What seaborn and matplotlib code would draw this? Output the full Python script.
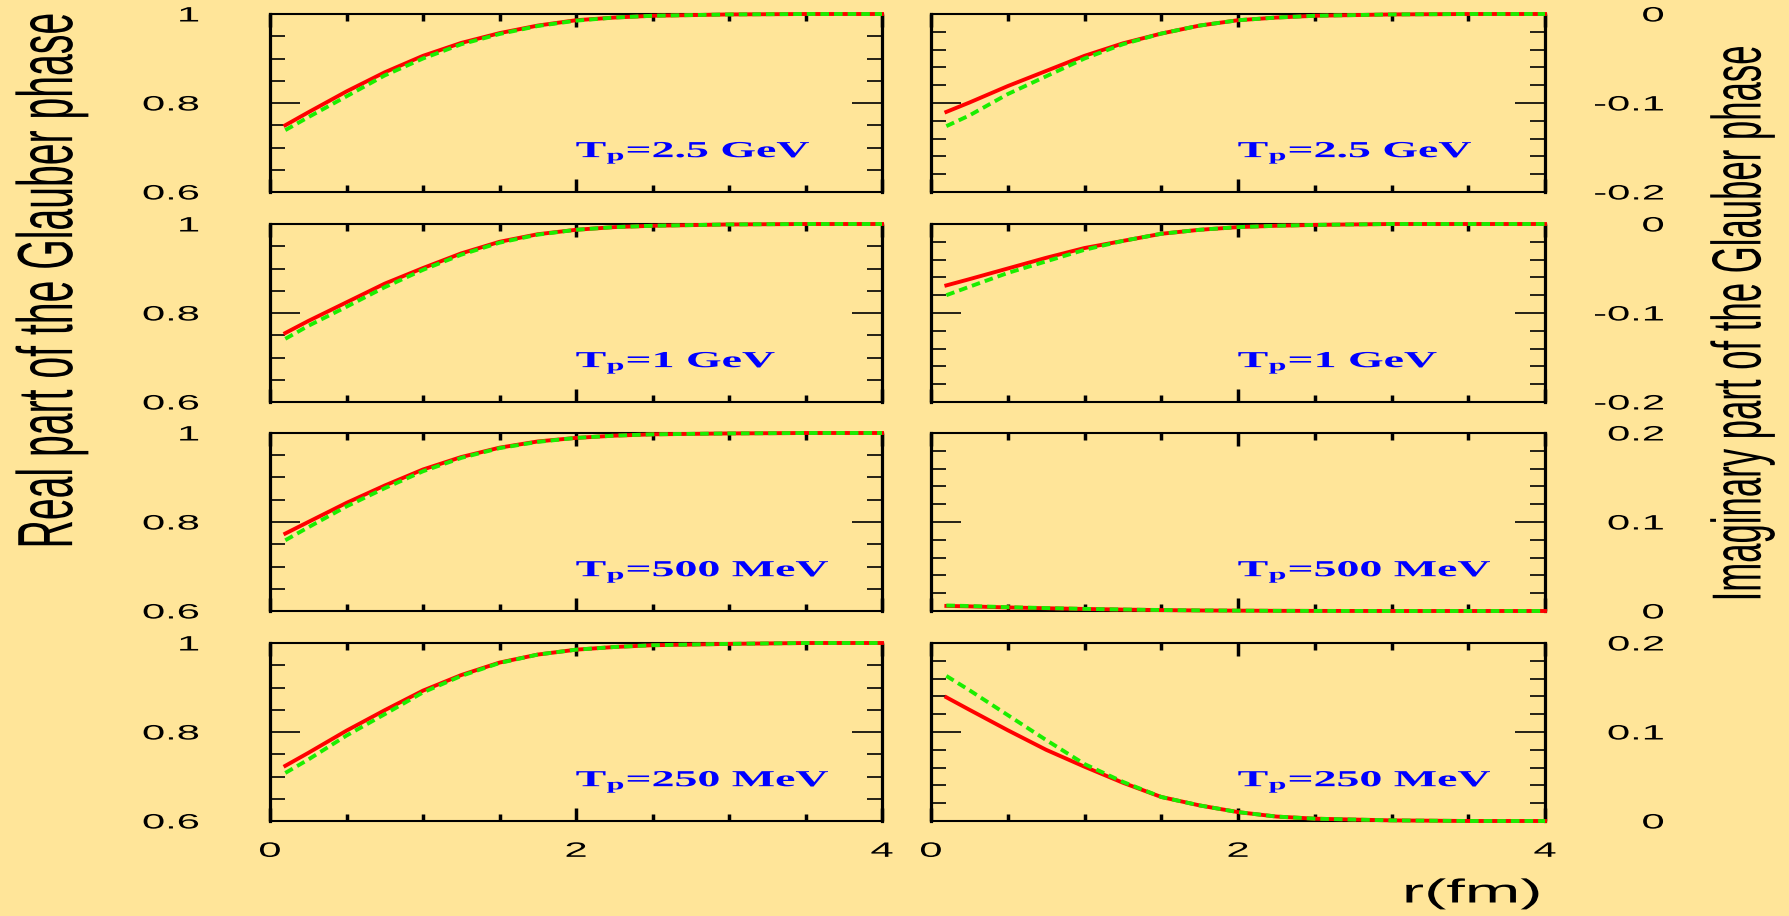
import matplotlib
matplotlib.use("Agg")
import matplotlib.pyplot as plt
import numpy as np
import pandas as pd
import seaborn as sns
from matplotlib.patheffects import AbstractPathEffect
from matplotlib.transforms import Affine2D
from matplotlib.ticker import FixedLocator, MultipleLocator

# ---------------------------------------------------------------- data
r = [0.1, 0.25, 0.5, 0.75, 1.0, 1.25, 1.5, 1.75, 2.0, 2.25, 2.5, 3.0, 3.5, 4.0]

energies = ["2.5 GeV", "1 GeV", "500 MeV", "250 MeV"]

# real part of the Glauber phase (red: solid, green: dashed)
re_red_2500 = [0.750, 0.779, 0.826, 0.869, 0.906, 0.935, 0.957, 0.974, 0.986, 0.992, 0.996, 0.999, 1.0, 1.0]
re_grn_2500 = [0.739, 0.768, 0.815, 0.862, 0.900, 0.932, 0.955, 0.973, 0.985, 0.992, 0.996, 0.999, 1.0, 1.0]
re_red_1000 = [0.755, 0.782, 0.824, 0.866, 0.901, 0.934, 0.960, 0.977, 0.987, 0.993, 0.996, 0.999, 1.0, 1.0]
re_grn_1000 = [0.742, 0.771, 0.814, 0.858, 0.897, 0.931, 0.958, 0.976, 0.987, 0.993, 0.996, 0.999, 1.0, 1.0]
re_red_500 = [0.774, 0.800, 0.843, 0.882, 0.918, 0.946, 0.967, 0.981, 0.989, 0.994, 0.997, 0.999, 1.0, 1.0]
re_grn_500 = [0.759, 0.788, 0.835, 0.876, 0.914, 0.944, 0.966, 0.980, 0.989, 0.994, 0.997, 0.999, 1.0, 1.0]
re_red_250 = [0.724, 0.753, 0.803, 0.849, 0.893, 0.928, 0.956, 0.974, 0.985, 0.991, 0.995, 0.998, 1.0, 1.0]
re_grn_250 = [0.708, 0.738, 0.792, 0.840, 0.889, 0.926, 0.955, 0.974, 0.985, 0.991, 0.995, 0.998, 1.0, 1.0]

# imaginary part of the Glauber phase
im_red_2500 = [-0.110, -0.0995, -0.081, -0.064, -0.047, -0.033, -0.022, -0.013, -0.007, -0.004, -0.002, -0.0005, 0.0, 0.0]
im_grn_2500 = [-0.126, -0.114, -0.090, -0.070, -0.050, -0.034, -0.022, -0.013, -0.007, -0.004, -0.002, -0.0005, 0.0, 0.0]
im_red_1000 = [-0.069, -0.062, -0.050, -0.038, -0.027, -0.019, -0.011, -0.0065, -0.0035, -0.002, -0.001, 0.0, 0.0, 0.0]
im_grn_1000 = [-0.080, -0.0705, -0.055, -0.042, -0.029, -0.019, -0.011, -0.0065, -0.0035, -0.002, -0.001, 0.0, 0.0, 0.0]
im_red_500 = [0.0057, 0.0052, 0.0040, 0.0031, 0.0023, 0.0016, 0.0010, 0.0006, 0.0004, 0.0002, 0.0001, 0.0, 0.0, 0.0]
im_grn_500 = [0.0062, 0.0056, 0.0043, 0.0033, 0.0024, 0.0017, 0.0011, 0.0007, 0.0004, 0.0002, 0.0001, 0.0, 0.0, 0.0]
im_red_250 = [0.139, 0.125, 0.102, 0.080, 0.061, 0.043, 0.027, 0.0175, 0.010, 0.005, 0.0026, 0.0007, 0.0, 0.0]
im_grn_250 = [0.163, 0.147, 0.119, 0.091, 0.064, 0.044, 0.027, 0.0175, 0.010, 0.005, 0.0026, 0.0007, 0.0, 0.0]

re_red = [re_red_2500, re_red_1000, re_red_500, re_red_250]
re_grn = [re_grn_2500, re_grn_1000, re_grn_500, re_grn_250]
im_red = [im_red_2500, im_red_1000, im_red_500, im_red_250]
im_grn = [im_grn_2500, im_grn_1000, im_grn_500, im_grn_250]

x_ticks = [0, 2, 4]
x_ticklabels = ["0", "2", "4"]
re_yticks = [0.6, 0.8, 1.0]
re_yticklabels = ["0.6", "0.8", "1"]
im_neg_yticks = [-0.2, -0.1, 0.0]
im_neg_yticklabels = ["-0.2", "-0.1", "0"]
im_pos_yticks = [0.0, 0.1, 0.2]
im_pos_yticklabels = ["0", "0.1", "0.2"]

# ---------------------------------------------------------------- style
BG = "#FFE599"
RED = "#FF0000"
GREEN = "#1AEE00"
BLUE = "#0000FF"

plt.rcParams["font.family"] = ["Liberation Sans", "DejaVu Sans"]
plt.rcParams["mathtext.fontset"] = "custom"
plt.rcParams["mathtext.rm"] = "Liberation Serif"
plt.rcParams["mathtext.bf"] = "Liberation Serif:bold"


class Wide(AbstractPathEffect):
    """Draw glyphs widened horizontally about a chosen anchor."""

    def __init__(self, anchor="center", sx=2.0):
        super().__init__()
        self.anchor = anchor
        self.sx = sx

    def draw_path(self, renderer, gc, tpath, affine, rgbFace=None):
        ext = tpath.get_extents(affine)
        if self.anchor == "left":
            x0 = ext.x0
        elif self.anchor == "right":
            x0 = ext.x1
        else:
            x0 = 0.5 * (ext.x0 + ext.x1)
        widen = Affine2D().translate(-x0, 0).scale(self.sx, 1.0).translate(x0, 0)
        renderer.draw_path(gc, tpath, affine + widen, rgbFace)


W, H = 1789, 916
fig = plt.figure(figsize=(W / 100, H / 100), dpi=100, facecolor=BG)


def px_rect(x0, y0, w, h):
    return [x0 / W, 1 - (y0 + h) / H, w / W, h / H]


col_left = [270, 931]
col_width = [612, 614]
row_top = [14, 224, 433, 643]
row_height = 178
LW = 2.8

for row in range(4):
    for col in range(2):
        ax = fig.add_axes(px_rect(col_left[col], row_top[row], col_width[col], row_height))
        ax.set_facecolor(BG)
        if col == 0:
            red, grn = re_red[row], re_grn[row]
            ylim = (0.6, 1.0)
            yt, ytl, ymin = re_yticks, re_yticklabels, 0.05
        else:
            red, grn = im_red[row], im_grn[row]
            if row < 2:
                ylim = (-0.2, 0.0)
                yt, ytl = im_neg_yticks, im_neg_yticklabels
            else:
                ylim = (0.0, 0.2)
                yt, ytl = im_pos_yticks, im_pos_yticklabels
            ymin = 0.02

        df = pd.DataFrame({"r": r, "red": red, "green": grn})
        sns.lineplot(data=df, x="r", y="red", ax=ax, color=RED, linewidth=LW,
                     estimator=None, sort=False, legend=False, zorder=3, clip_on=False)
        sns.lineplot(data=df, x="r", y="green", ax=ax, color=GREEN, linewidth=LW,
                     linestyle=(0, (2.2, 1.3)), estimator=None, sort=False,
                     legend=False, zorder=4, clip_on=False)
        ax.set_xlim(0, 4)
        ax.set_ylim(*ylim)
        ax.set_xlabel("")
        ax.set_ylabel("")

        for side in ("left", "right"):
            ax.spines[side].set_linewidth(2.3)
        for side in ("top", "bottom"):
            ax.spines[side].set_linewidth(1.5)

        ax.xaxis.set_major_locator(FixedLocator(x_ticks))
        ax.xaxis.set_minor_locator(MultipleLocator(0.5))
        ax.yaxis.set_minor_locator(MultipleLocator(ymin))
        ax.set_yticks(yt, labels=ytl)
        ax.set_xticks(x_ticks, labels=x_ticklabels)

        ax.tick_params(axis="x", which="major", direction="in", length=9.4, width=2.5,
                       top=True, bottom=True, labelbottom=(row == 3), labelsize=15, pad=15)
        ax.tick_params(axis="x", which="minor", direction="in", length=5, width=2.5,
                       top=True, bottom=True)
        ax.tick_params(axis="y", which="major", direction="in", length=21.6, width=1.2,
                       left=True, right=True, labelsize=15,
                       labelleft=(col == 0), labelright=(col == 1),
                       pad=(51 if col == 0 else 85.7))
        ax.tick_params(axis="y", which="minor", direction="in", length=10.8, width=1.2,
                       left=True, right=True)

        for t in ax.yaxis.get_major_ticks():
            t.label1.set_path_effects([Wide("right")])
            t.label2.set_horizontalalignment("right")
            t.label2.set_path_effects([Wide("right")])
        for t in ax.xaxis.get_major_ticks():
            t.label1.set_path_effects([Wide("center")])

        ax.text(0.5, 0.195, r"$\mathbf{T_p}$=" + energies[row], transform=ax.transAxes,
                ha="left", va="baseline", fontsize=16.5, color=BLUE,
                family="Liberation Serif", weight="bold", path_effects=[Wide("left")])

fig.text(52 / W, 1 - 281 / H, "Real part of the Glauber phase", rotation=90,
         ha="center", va="center", fontsize=28.2, path_effects=[Wide("center")])
fig.text(1742 / W, 1 - 323 / H, "Imaginary part of the Glauber phase", rotation=90,
         ha="center", va="center", fontsize=25, path_effects=[Wide("center")])
fig.text(1541 / W, 1 - 894 / H, "r(fm)", ha="right", va="center", fontsize=24,
         path_effects=[Wide("right")])

fig.savefig("out.png", dpi=100, facecolor=BG)
